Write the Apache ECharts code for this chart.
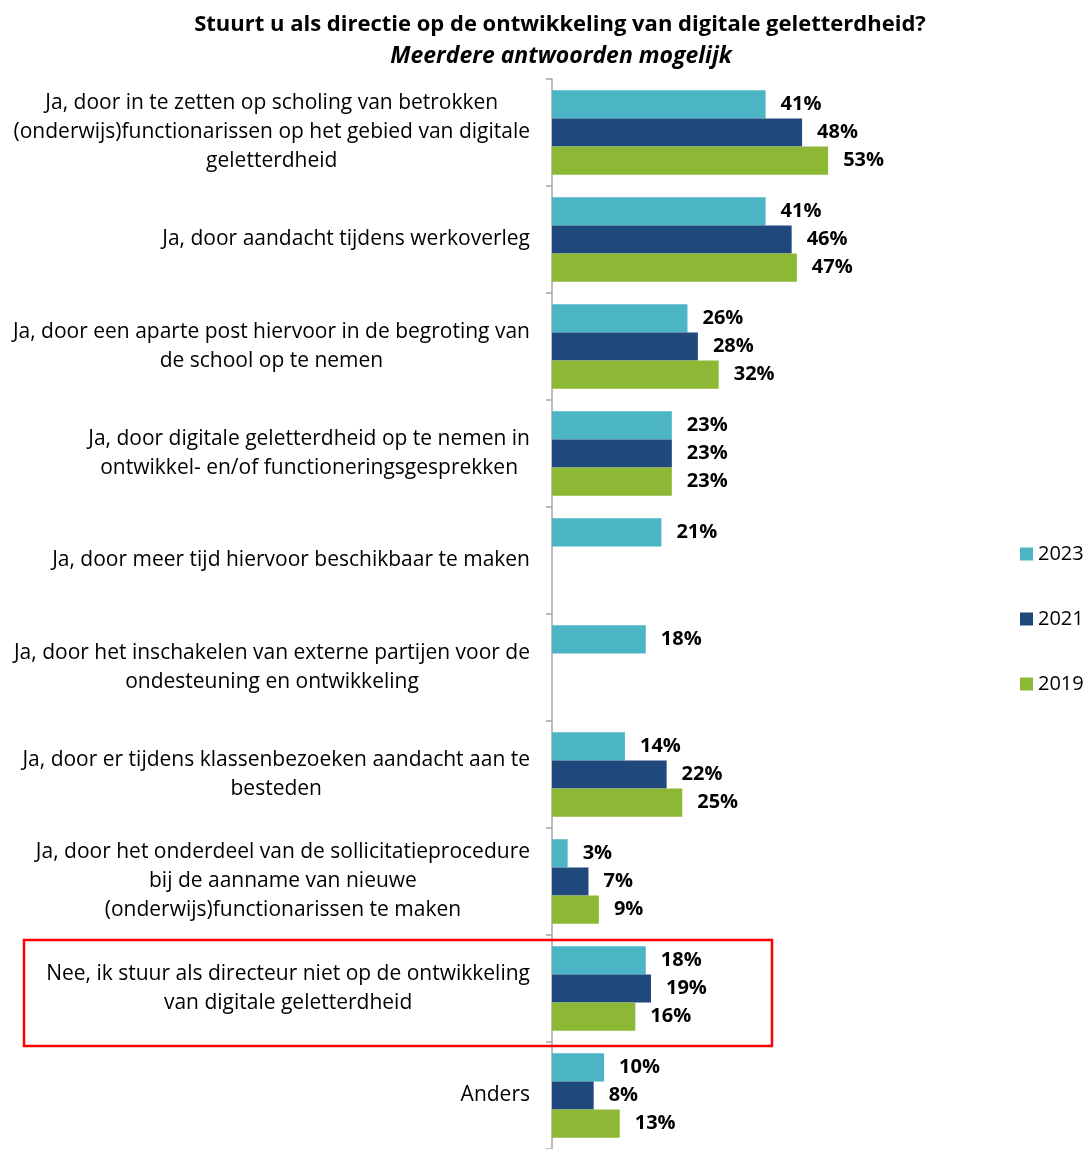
<!DOCTYPE html>
<html>
<head>
<meta charset="utf-8">
<script src="https://cdn.jsdelivr.net/npm/echarts@6/dist/echarts.min.js"></script>
<style>
  html, body { margin: 0; padding: 0; background: #fff; }
  #main { width: 1091px; height: 1149px; }
</style>
</head>
<body>
<div id="main"></div>
<script>
// categorieën (van boven naar beneden)
var categories = [
  'Ja, door in te zetten op scholing van betrokken\n(onderwijs)functionarissen op het gebied van digitale\ngeletterdheid',
  'Ja, door aandacht tijdens werkoverleg',
  'Ja, door een aparte post hiervoor in de begroting van\nde school op te nemen',
  'Ja, door digitale geletterdheid op te nemen in\nontwikkel- en/of functioneringsgesprekken',
  'Ja, door meer tijd hiervoor beschikbaar te maken',
  'Ja, door het inschakelen van externe partijen voor de\nondesteuning en ontwikkeling',
  'Ja, door er tijdens klassenbezoeken aandacht aan te\nbesteden',
  'Ja, door het onderdeel van de sollicitatieprocedure\nbij de aanname van nieuwe\n(onderwijs)functionarissen te maken',
  'Nee, ik stuur als directeur niet op de ontwikkeling\nvan digitale geletterdheid',
  'Anders'
];
var years = ['2023', '2021', '2019'];
var values2023 = [41, 41, 26, 23, 21, 18, 14, 3, 18, 10];
var values2021 = [48, 46, 28, 23, null, null, 22, 7, 19, 8];
var values2019 = [53, 47, 32, 23, null, null, 25, 9, 16, 13];
var colors = ['#4bb5c5', '#1f497d', '#8cb835'];

var myChart = echarts.init(document.getElementById('main'));
var font = '"Open Sans", Lato, sans-serif';

function makeSeries(name, data, color) {
  return {
    name: name,
    type: 'bar',
    data: data,
    itemStyle: { color: color },
    barGap: '0%',
    barCategoryGap: '21%',
    label: {
      show: true,
      position: 'right',
      distance: 15,
      formatter: '{c}%',
      color: '#000',
      fontWeight: 'bold',
      fontSize: 20,
      fontFamily: font
    }
  };
}

var option = {
  animation: false,
  color: colors,
  title: [{
    text: 'Stuurt u als directie op de ontwikkeling van digitale geletterdheid?',
    left: 555,
    top: 9,
    textAlign: 'center',
    textStyle: { fontSize: 22, fontWeight: 'bold', color: '#000', fontFamily: font }
  }, {
    text: 'Meerdere antwoorden mogelijk',
    left: 556,
    top: 40,
    textAlign: 'center',
    textStyle: { fontSize: 23, fontWeight: 'bold', fontStyle: 'italic', color: '#000', fontFamily: font }
  }],
  legend: {
    orient: 'vertical',
    left: 1015,
    top: 539,
    itemWidth: 13,
    itemHeight: 13,
    itemGap: 45,
    itemTextGap: 6,
    icon: 'rect',
    textStyle: { fontSize: 20, color: '#000', fontFamily: font },
    data: years
  },
  grid: { left: 552, top: 79, width: 521, height: 1076, containLabel: false },
  xAxis: {
    type: 'value',
    min: 0,
    max: 100,
    show: false
  },
  yAxis: {
    type: 'category',
    inverse: true,
    data: categories,
    axisLine: { show: true, lineStyle: { color: '#a6a6a6', width: 1.5 } },
    axisTick: { show: true, length: 6, lineStyle: { color: '#a6a6a6', width: 1.5 } },
    axisLabel: {
      margin: 22,
      align: 'right',
      formatter: function (value) {
        return value.split('\n').map(function (l) { return '{c|' + l + '}'; }).join('\n');
      },
      rich: {
        c: {
          align: 'center',
          color: '#000',
          fontSize: 21,
          lineHeight: 29,
          fontFamily: font
        }
      }
    }
  },
  series: [
    makeSeries(years[0], values2023, colors[0]),
    makeSeries(years[1], values2021, colors[1]),
    makeSeries(years[2], values2019, colors[2])
  ],
  graphic: [{
    type: 'rect',
    shape: { x: 24, y: 940, width: 748, height: 106 },
    style: { fill: 'none', stroke: '#ff0000', lineWidth: 2.5 },
    z: 10
  }]
};

myChart.setOption(option);
</script>
</body>
</html>
